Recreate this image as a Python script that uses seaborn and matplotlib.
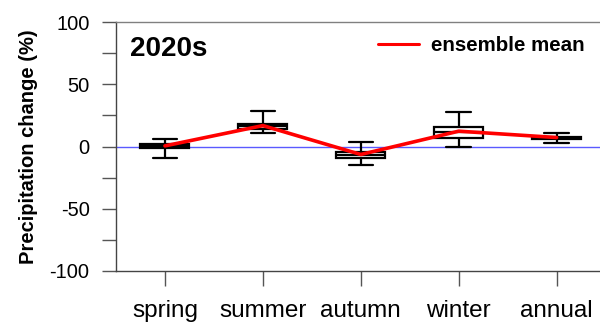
import numpy as np
import pandas as pd
import matplotlib
matplotlib.use("Agg")
import matplotlib.pyplot as plt
import seaborn as sns
from matplotlib.lines import Line2D

sns.set_style("ticks")
plt.rcParams["font.family"] = ["Liberation Sans", "DejaVu Sans"]
plt.rcParams["axes.unicode_minus"] = False
for key in ("text.color", "axes.labelcolor", "xtick.labelcolor", "ytick.labelcolor"):
    plt.rcParams[key] = "black"

seasons = ["spring", "summer", "autumn", "winter", "annual"]
# five-number summaries of the ensemble: whisker low, Q1, median, Q3, whisker high
whisker_low = [-9.1, 11.2, -14.9, -0.5, 3.2]
q1 = [-1.3, 13.9, -9.1, 7.2, 6.2]
median = [0.5, 16.5, -6.5, 12.0, 7.2]
q3 = [2.2, 18.4, -4.5, 16.0, 8.0]
whisker_high = [6.4, 28.9, 4.0, 28.1, 11.0]
ensemble_mean = [0.5, 16.8, -6.4, 12.3, 7.2]

rows = []
for i, s in enumerate(seasons):
    for v in (whisker_low[i], q1[i], median[i], q3[i], whisker_high[i]):
        rows.append({"season": s, "change": v})
df = pd.DataFrame(rows)

fig = plt.figure(figsize=(6.0, 3.3), dpi=100)
ax = fig.add_axes([116 / 600, 1 - 271 / 330, 1 - 116 / 600, (271 - 22) / 330])

ax.axhline(0, color="#5a5aff", lw=1.0, zorder=1)

sns.boxplot(data=df, x="season", y="change", order=seasons, whis=(0, 100),
            width=0.5, color="white", linecolor="black", linewidth=1.6,
            fliersize=0, ax=ax, zorder=2)

sns.pointplot(x=seasons, y=ensemble_mean, order=seasons, color="red",
              markers="", linewidth=2.6, errorbar=None, ax=ax, zorder=3)

ax.set_ylim(-100, 100)
ax.set_xlim(-0.5, 4.443)
ax.set_yticks([-100, -50, 0, 50, 100])
ax.set_yticks([-75, -25, 25, 75], minor=True)
ax.set_xlabel("")
ax.set_ylabel("Precipitation change (%)", fontsize=14.5, fontweight="bold",
              labelpad=8)

ax.tick_params(axis="y", which="major", length=10, width=1.0, color="#555555",
               pad=9, labelsize=14.5)
ax.tick_params(axis="y", which="minor", length=10, width=1.0, color="#555555")
ax.tick_params(axis="x", length=11, width=1.0, color="#555555", pad=10,
               labelsize=17.5)

for side in ("left", "bottom"):
    ax.spines[side].set_color("#444444")
    ax.spines[side].set_linewidth(1.0)
ax.spines["top"].set_visible(True)
ax.spines["top"].set_color("#808080")
ax.spines["top"].set_linewidth(1.0)
ax.spines["right"].set_visible(False)

ax.text(0.028, 0.865, "2020s", transform=ax.transAxes, fontsize=20,
        fontweight="bold", va="baseline", ha="left")

handle = Line2D([], [], color="red", lw=2.2)
ax.legend([handle], ["ensemble mean"], loc="upper left",
          bbox_to_anchor=(0.525, 0.975), frameon=False, handlelength=2.0,
          handletextpad=0.55, borderaxespad=0,
          prop={"weight": "bold", "size": 14.8})

fig.savefig("out.png", dpi=100)
